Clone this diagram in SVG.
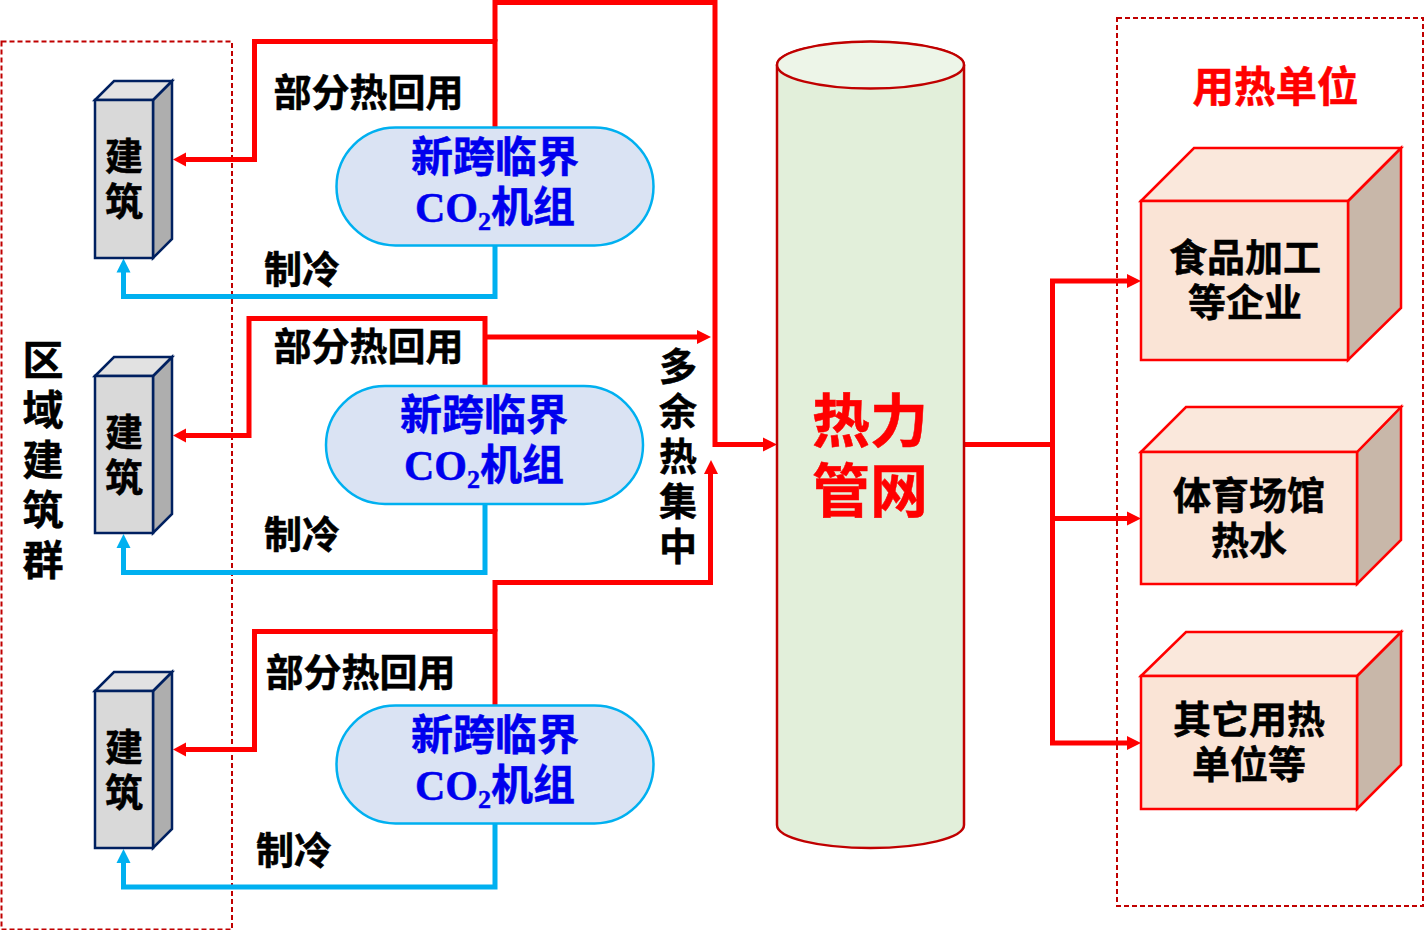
<svg xmlns="http://www.w3.org/2000/svg" width="1426" height="930" viewBox="0 0 1426 930">
<style>
text{font-family:"Noto Sans CJK SC","Noto Sans",sans-serif;font-weight:700;fill:#000;text-anchor:middle;stroke:#000;stroke-width:.5px}
.l{font-size:38px}
.b{font-size:42px;fill:#0000ee;stroke:#0000ee}
.c{font-family:"Liberation Serif","Noto Sans CJK SC",serif}
.f{font-size:38px}
.v{writing-mode:vertical-rl;text-orientation:upright}
.red{fill:#ff0000;stroke:#ff0000}
.dash{fill:none;stroke:#c00000;stroke-width:2;stroke-dasharray:5 3}
.front{fill:#d9d9d9;stroke:#002060;stroke-width:2.5}
.top{fill:#e2e2e2;stroke:#002060;stroke-width:2.5}
.side{fill:#aeaeae;stroke:#002060;stroke-width:2.5}
.pill{fill:#dae3f3;stroke:#00b0f0;stroke-width:2.5}
.bf{fill:#fae4d6;stroke:#ff0000;stroke-width:2.5}
.bt{fill:#fae8dc;stroke:#ff0000;stroke-width:2.5}
.bs{fill:#c8b7a9;stroke:#ff0000;stroke-width:2.5}
.r{fill:none;stroke:#ff0000;stroke-width:5}
.u{fill:none;stroke:#00b0f0;stroke-width:5}
.rh{fill:#ff0000}
.uh{fill:#00b0f0}
</style>
<g id="region-left"><rect class="dash" x="1.500" y="41.500" width="230.500" height="888"/><text class="v" x="43" y="464" style="font-size:41px;letter-spacing:9.200px">区域建筑群</text></g>
<g id="region-right"><rect class="dash" x="1117" y="18" width="306" height="888"/><text class="red" x="1275.500" y="102" style="font-size:41.500px">用热单位</text></g>

<g id="connectors">
<path class="r" d="M495 127V41.500H254.500V159.500H184"/>
<path class="r" d="M495 41.500V2.500H715V444.500H765"/>
<path class="r" d="M485 386V318.500H249V435.500H184"/>
<path class="r" d="M485 337H699"/>
<path class="r" d="M495 705V631.500H254.500V749.500H184"/>
<path class="r" d="M495 631.500V582.500H710.500V472"/>
<path class="r" d="M965 444.500H1052.500M1129 281H1052.500V743H1129M1052.500 518.500H1129"/>
<path class="u" d="M495 246V296.500H123.500V270"/>
<path class="u" d="M485 504V572.500H123.500V546"/>
<path class="u" d="M495 824V887H123.500V861"/>
<path class="rh" d="M173 159.500L186 152.500V166.500Z"/>
<path class="rh" d="M173 435.500L186 428.500V442.500Z"/>
<path class="rh" d="M173 749.500L186 742.500V756.500Z"/>
<path class="rh" d="M711 337L697 330V344Z"/>
<path class="rh" d="M711 460L704 474H718Z"/>
<path class="rh" d="M777 444.500L763 437.500V451.500Z"/>
<path class="rh" d="M1141 281L1127 274V288Z"/>
<path class="rh" d="M1141 518.500L1127 511.500V525.500Z"/>
<path class="rh" d="M1141 743L1127 736V750Z"/>
<path class="uh" d="M123.500 258.500L116.500 272.500H130.500Z"/>
<path class="uh" d="M123.500 534L116.500 548H130.500Z"/>
<path class="uh" d="M123.500 849L116.500 863H130.500Z"/>
</g>

<g id="label-a1"><text class="l" x="368.500" y="106">部分热回用</text></g>
<g id="label-a2"><text class="l" x="368.500" y="360">部分热回用</text></g>
<g id="label-a3"><text class="l" x="360.500" y="686">部分热回用</text></g>
<g id="label-c1"><text class="l" x="302" y="283">制冷</text></g>
<g id="label-c2"><text class="l" x="302" y="548">制冷</text></g>
<g id="label-c3"><text class="l" x="294" y="864">制冷</text></g>
<g id="label-surplus"><text class="l v" x="678" y="459" style="letter-spacing:7px">多余热集中</text></g>

<g id="building-1"><path class="side" d="M153 100L172 81V239L153 258Z"/><path class="top" d="M95 100L114 81H172L153 100Z"/><rect class="front" x="95" y="100" width="58" height="158"/><text class="l v" x="124" y="182" style="letter-spacing:7px">建筑</text></g>
<g id="building-2"><path class="side" d="M153 376L172 357V514L153 533Z"/><path class="top" d="M95 376L114 357H172L153 376Z"/><rect class="front" x="95" y="376" width="58" height="157"/><text class="l v" x="124" y="457.500" style="letter-spacing:7px">建筑</text></g>
<g id="building-3"><path class="side" d="M153 691L172 672V829L153 848Z"/><path class="top" d="M95 691L114 672H172L153 691Z"/><rect class="front" x="95" y="691" width="58" height="157"/><text class="l v" x="124" y="772.500" style="letter-spacing:7px">建筑</text></g>

<g id="unit-1"><rect class="pill" x="336.500" y="127.500" width="317" height="118" rx="59"/><text class="b" x="495" y="172">新跨临界</text><text class="b" x="495" y="222"><tspan class="c">CO</tspan><tspan class="c" font-size="26" dy="8">2</tspan><tspan dy="-8">机组</tspan></text></g>
<g id="unit-2"><rect class="pill" x="326" y="386" width="317" height="118" rx="59"/><text class="b" x="484" y="430">新跨临界</text><text class="b" x="484" y="480"><tspan class="c">CO</tspan><tspan class="c" font-size="26" dy="8">2</tspan><tspan dy="-8">机组</tspan></text></g>
<g id="unit-3"><rect class="pill" x="336.500" y="705.500" width="317" height="118" rx="59"/><text class="b" x="495" y="750">新跨临界</text><text class="b" x="495" y="800"><tspan class="c">CO</tspan><tspan class="c" font-size="26" dy="8">2</tspan><tspan dy="-8">机组</tspan></text></g>

<g id="network"><path d="M777 65V825C777 838 819 848 870.500 848S964 838 964 825V65C964 52 922 42 870.500 42S777 52 777 65Z" fill="#e2efda" stroke="#c00000" stroke-width="2.500"/><ellipse cx="870.500" cy="65" rx="93.500" ry="23.500" fill="#edf5e8" stroke="#c00000" stroke-width="2.500"/><text class="red" x="870" y="442" style="font-size:58px">热力</text><text class="red" x="870" y="512" style="font-size:58px">管网</text></g>

<g id="user-1"><path class="bs" d="M1348 201L1401 148V308L1348 360Z"/><path class="bt" d="M1141 201L1194 148H1401L1348 201Z"/><rect class="bf" x="1141" y="201" width="207" height="159"/><text class="f" x="1245" y="271">食品加工</text><text class="f" x="1245" y="316">等企业</text></g>
<g id="user-2"><path class="bs" d="M1357 452L1401 407V540L1357 584Z"/><path class="bt" d="M1141 452L1186 407H1401L1357 452Z"/><rect class="bf" x="1141" y="452" width="216" height="132"/><text class="f" x="1249" y="509">体育场馆</text><text class="f" x="1249" y="554">热水</text></g>
<g id="user-3"><path class="bs" d="M1357 676L1401 632V765L1357 809Z"/><path class="bt" d="M1141 676L1186 632H1401L1357 676Z"/><rect class="bf" x="1141" y="676" width="216" height="133"/><text class="f" x="1249" y="733">其它用热</text><text class="f" x="1249" y="778">单位等</text></g>
</svg>
